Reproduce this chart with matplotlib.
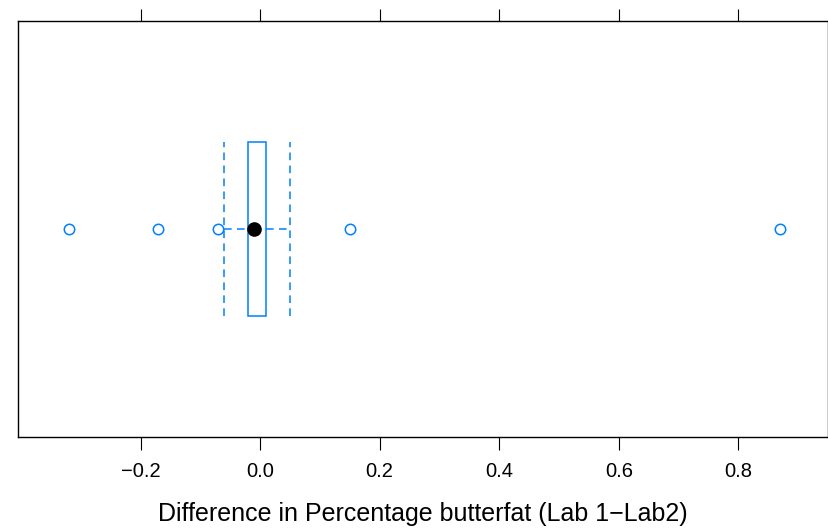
import matplotlib.pyplot as plt

# box statistics (Lab 1 - Lab 2 butterfat difference)
q1, med, q3 = -0.02, -0.01, 0.01
whisk_lo, whisk_hi = -0.06, 0.05
outliers = [-0.32, -0.17, -0.07, 0.15, 0.87]
xticks = [-0.2, 0.0, 0.2, 0.4, 0.6, 0.8]
xlabel = "Difference in Percentage butterfat (Lab 1\u2212Lab2)"

blue = "#0080ff"
plt.rcParams['font.family'] = ['Liberation Sans', 'DejaVu Sans']

fig = plt.figure(figsize=(8.29, 5.30), dpi=100)
ax = fig.add_axes([18/829, 1-437/530, 810/829, 416/530])

y0 = 1.0
hw = 0.25
# box
ax.add_patch(plt.Rectangle((q1, y0-hw), q3-q1, 2*hw, fill=False, ec=blue, lw=1.1))
# whisker caps (dashed, full box height)
for w in (whisk_lo, whisk_hi):
    ax.plot([w, w], [y0-hw, y0+hw], color=blue, lw=1.1, dashes=(5, 3.5))
# whisker lines
ax.plot([whisk_lo, q1], [y0, y0], color=blue, lw=1.1, dashes=(5, 3.5))
ax.plot([q3, whisk_hi], [y0, y0], color=blue, lw=1.1, dashes=(5, 3.5))
# outliers
ax.plot(outliers, [y0]*len(outliers), 'o', ms=7.5, mfc='white', mec=blue, mew=1.1, ls='none')
# median dot
ax.plot([med], [y0], 'o', ms=9.5, color='black')

ax.set_xlim(-0.405, 0.950)
ax.set_ylim(0.4, 1.6)
ax.set_yticks([])
ax.set_xticks(xticks)
ax.set_xticklabels(["\u22120.2" if t < 0 else f"{t:.1f}" for t in xticks])
ax.tick_params(axis='x', top=True, bottom=True, labeltop=False, direction='out',
               length=9, width=0.8, labelsize=14.5, pad=9)
for s in ax.spines.values():
    s.set_linewidth(1.0)
ax.set_xlabel(xlabel, fontsize=18, labelpad=15)

fig.savefig("out.png", dpi=100)
